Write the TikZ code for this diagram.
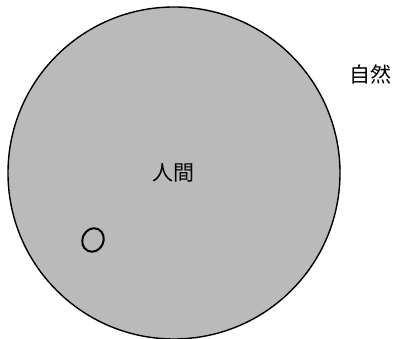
\documentclass[tikz,border=0pt]{standalone}
\usepackage{fontspec}
\newfontfamily\cjk{Noto Sans CJK JP}
\definecolor{halftone}{gray}{0.73}
\tikzset{
  lbl/.style={font=\cjk\fontsize{21}{25}\selectfont, inner sep=0pt},
  world/.style={draw=black, line width=1.4pt, fill=halftone},
  speck/.style={draw=black, line width=2pt}
}
\begin{document}
\begin{tikzpicture}[x=1pt,y=1pt]
\useasboundingbox (0,0) rectangle (398,339);
\fill[white] (0,0) rectangle (398,339);
\node[world, circle, minimum size=332pt, inner sep=0pt] (nature) at (174,166) {};
\node[lbl] (human) at (173,166) {人間};
\node[lbl] (shizen) at (370,265) {自然};
\draw[speck, rotate around={-25:(93,99)}] (93,99) ellipse [x radius=10.5, y radius=12];
\end{tikzpicture}
\end{document}
